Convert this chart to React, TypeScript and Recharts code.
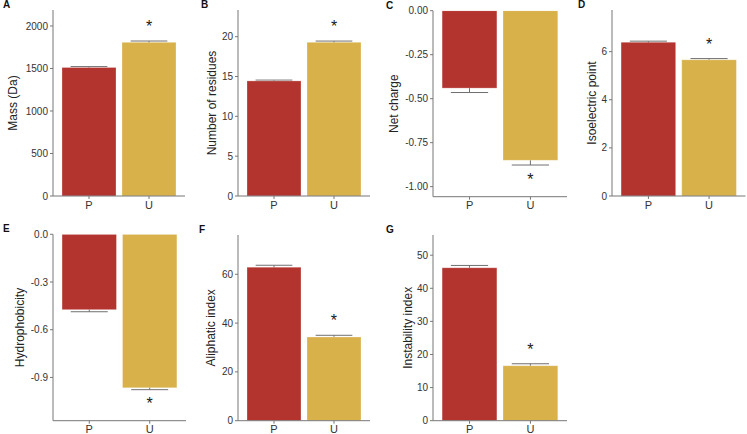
import React from "react";
import { BarChart, Bar, XAxis, YAxis, Cell } from "recharts";

const groups = ["P", "U"];
const groupColors = ["#B3342F", "#D9B14A"];
const significant = [false, true];

const massMean = [1512, 1808];
const massErr = [10, 15];
const massTicks = [0, 500, 1000, 1500, 2000];

const residuesMean = [14.45, 19.3];
const residuesErr = [0.1, 0.15];
const residuesTicks = [0, 5, 10, 15, 20];

const chargeMean = [-0.44, -0.85];
const chargeErr = [0.025, 0.027];
const chargeTicks = [-1, -0.75, -0.5, -0.25, 0];

const pIMean = [6.39, 5.66];
const pIErr = [0.045, 0.05];
const pITicks = [0, 2, 4, 6];

const hydroMean = [-0.474, -0.965];
const hydroErr = [0.013, 0.012];
const hydroTicks = [-0.9, -0.6, -0.3, 0];

const aliphaticMean = [62.9, 34.3];
const aliphaticErr = [0.8, 0.7];
const aliphaticTicks = [0, 20, 40, 60];

const instabilityMean = [46.2, 16.6];
const instabilityErr = [0.7, 0.6];
const instabilityTicks = [0, 10, 20, 30, 40, 50];

const FONT = "'Liberation Sans', Arial, Helvetica, sans-serif";
const AXIS = "#777777";

const BarWithError = (props: any) => {
  const { x, y, width, height, fill, payload } = props;
  const top = Math.min(y, y + height);
  const bottom = Math.max(y, y + height);
  const up = payload.mean >= 0;
  const pxPerUnit = (bottom - top) / Math.abs(payload.mean);
  const edge = up ? top : bottom;
  const dir = up ? -1 : 1;
  const errPx = payload.err * pxPerUnit;
  const cap = edge + dir * errPx;
  const cx = x + width / 2;
  const half = width * 0.34;
  const starBase = up ? cap - 8.8 : cap + 19.7;
  return (
    <g>
      <line x1={cx} x2={cx} y1={edge - dir * errPx} y2={cap} stroke="#6e6e6e" strokeWidth={1} />
      <line x1={cx - half} x2={cx + half} y1={cap} y2={cap} stroke="#6e6e6e" strokeWidth={1} />
      <rect x={x} y={top} width={width} height={bottom - top} fill={fill} stroke="rgba(255,255,255,0.35)" strokeWidth={0.8} />
      {payload.sig && (
        <text x={cx} y={starBase} textAnchor="middle" fontSize={16} fontFamily={FONT} fill="#1a1a1a">
          *
        </text>
      )}
    </g>
  );
};

const YTitle = (props: any) => {
  const { viewBox, text, dist } = props;
  const tx = viewBox.x + viewBox.width - dist;
  const ty = viewBox.y + viewBox.height / 2;
  return (
    <text
      x={tx}
      y={ty}
      transform={`rotate(-90 ${tx} ${ty})`}
      textAnchor="middle"
      dominantBaseline="central"
      fontSize={12}
      fontFamily={FONT}
      fill="#222"
    >
      {text}
    </text>
  );
};

interface PanelProps {
  letter: string;
  letterX: number;
  title: string;
  titleDist: number;
  means: number[];
  errs: number[];
  ticks: number[];
  domain: [number, number];
  digits: number;
  left: number;
  top: number;
  axisX: number;
  plotTop: number;
  plotBottom: number;
  plotRight: number;
}

function Panel(p: PanelProps) {
  const data = groups.map((g, i) => ({
    group: g,
    mean: p.means[i],
    err: p.errs[i],
    sig: significant[i],
  }));
  const w = p.plotRight - p.axisX;
  const pad = (w * 0.1) / 2.2;
  const barSize = (w * 0.9) / 2.2;
  const width = p.plotRight - p.left + 2;
  const height = p.plotBottom - p.top + 22;
  return (
    <>
      <div
        style={{
          position: "absolute",
          left: p.letterX,
          top: p.plotTop - 10,
          fontFamily: FONT,
          fontWeight: 700,
          fontSize: 10,
          lineHeight: "10px",
          color: "#111",
        }}
      >
        {p.letter}
      </div>
      <div style={{ position: "absolute", left: p.left, top: p.top }}>
        <BarChart
          width={width}
          height={height}
          data={data}
          margin={{ top: p.plotTop - p.top, right: 2, left: 0, bottom: 0 }}
        >
          <XAxis
            dataKey="group"
            height={22}
            padding={{ left: pad, right: pad }}
            axisLine={{ stroke: AXIS }}
            tickLine={{ stroke: AXIS }}
            tickSize={3}
            tick={{ fontSize: 11, fill: "#333", fontFamily: FONT }}
          />
          <YAxis
            width={p.axisX - p.left}
            domain={p.domain}
            ticks={p.ticks}
            allowDataOverflow
            tickFormatter={(v: number) => v.toFixed(p.digits)}
            axisLine={{ stroke: AXIS }}
            tickLine={{ stroke: AXIS }}
            tickSize={3}
            tick={{ fontSize: 10, fill: "#333", fontFamily: FONT }}
            label={<YTitle text={p.title} dist={p.titleDist} />}
          />
          <Bar dataKey="mean" barSize={barSize} shape={<BarWithError />} isAnimationActive={false}>
            {data.map((d, i) => (
              <Cell key={d.group} fill={groupColors[i]} />
            ))}
          </Bar>
        </BarChart>
      </div>
    </>
  );
}

export default function App() {
  return (
    <div style={{ position: "absolute", left: 0, top: 0, width: 747, height: 434, background: "#fff" }}>
      <Panel letter="A" letterX={3} title="Mass (Da)" titleDist={40} means={massMean} errs={massErr}
        ticks={massTicks} domain={[0, 2188]} digits={0}
        left={0} top={0} axisX={53} plotTop={10} plotBottom={196} plotRight={185} />
      <Panel letter="B" letterX={201} title="Number of residues" titleDist={26.5} means={residuesMean} errs={residuesErr}
        ticks={residuesTicks} domain={[0, 23.35]} digits={0}
        left={185} top={0} axisX={238} plotTop={10} plotBottom={196} plotRight={370} />
      <Panel letter="C" letterX={386} title="Net charge" titleDist={39} means={chargeMean} errs={chargeErr}
        ticks={chargeTicks} domain={[-1.057, 0]} digits={2}
        left={370} top={0} axisX={433} plotTop={10.7} plotBottom={196.7} plotRight={567} />
      <Panel letter="D" letterX={578} title="Isoelectric point" titleDist={20.3} means={pIMean} errs={pIErr}
        ticks={pITicks} domain={[0, 7.73]} digits={0}
        left={555} top={0} axisX={612} plotTop={10} plotBottom={196} plotRight={745.5} />
      <Panel letter="E" letterX={3} title="Hydrophobicity" titleDist={33} means={hydroMean} errs={hydroErr}
        ticks={hydroTicks} domain={[-1.172, 0]} digits={1}
        left={0} top={215} axisX={53} plotTop={234.3} plotBottom={420.7} plotRight={186} />
      <Panel letter="F" letterX={199} title="Aliphatic index" titleDist={27} means={aliphaticMean} errs={aliphaticErr}
        ticks={aliphaticTicks} domain={[0, 76.1]} digits={0}
        left={185} top={215} axisX={238} plotTop={235} plotBottom={420.7} plotRight={370} />
      <Panel letter="G" letterX={386} title="Instability index" titleDist={25} means={instabilityMean} errs={instabilityErr}
        ticks={instabilityTicks} domain={[0, 56.1]} digits={0}
        left={370} top={215} axisX={433} plotTop={235} plotBottom={420.7} plotRight={567} />
    </div>
  );
}
